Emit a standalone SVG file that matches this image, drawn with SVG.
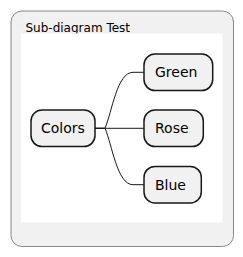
<svg xmlns="http://www.w3.org/2000/svg" width="243" height="257" viewBox="0 0 243 257">
<style>
.node rect{fill:#F1F1F1;stroke:#181818;stroke-width:1.5}
.node text{font-family:"DejaVu Sans",sans-serif;font-size:14px;fill:#000}
.conn path{fill:none;stroke:#181818;stroke-width:1}
</style>
<g id="frame">
<rect x="11" y="11" width="222.5" height="235.5" rx="11" fill="#F1F1F1" stroke="#888888" stroke-width="1"/>
<text x="25.5" y="32" font-family="DejaVu Sans, sans-serif" font-size="12" fill="#000">Sub-diagram Test</text>
<rect x="21" y="33.5" width="201.5" height="189" fill="#FFFFFF"/>
</g>
<g id="connectors" class="conn">
<path d="M95,128.3 L105,128.3 C112,112 117,72.3 133,72.3 L144,72.3"/>
<path d="M95,128.3 L144,128.3"/>
<path d="M95,128.3 L105,128.3 C112,144 117,184.7 133,184.7 L144,184.7"/>
</g>
<g id="colors" class="node">
<rect x="31" y="110" width="64" height="36.6" rx="11"/>
<text x="41" y="133.3">Colors</text>
</g>
<g id="green" class="node">
<rect x="144" y="54" width="68.7" height="36.6" rx="11"/>
<text x="155" y="77.3">Green</text>
</g>
<g id="rose" class="node">
<rect x="144" y="110" width="59.3" height="36.6" rx="11"/>
<text x="155" y="133.3">Rose</text>
</g>
<g id="blue" class="node">
<rect x="144" y="166.4" width="57.3" height="36.6" rx="11"/>
<text x="155" y="189.7">Blue</text>
</g>
</svg>
